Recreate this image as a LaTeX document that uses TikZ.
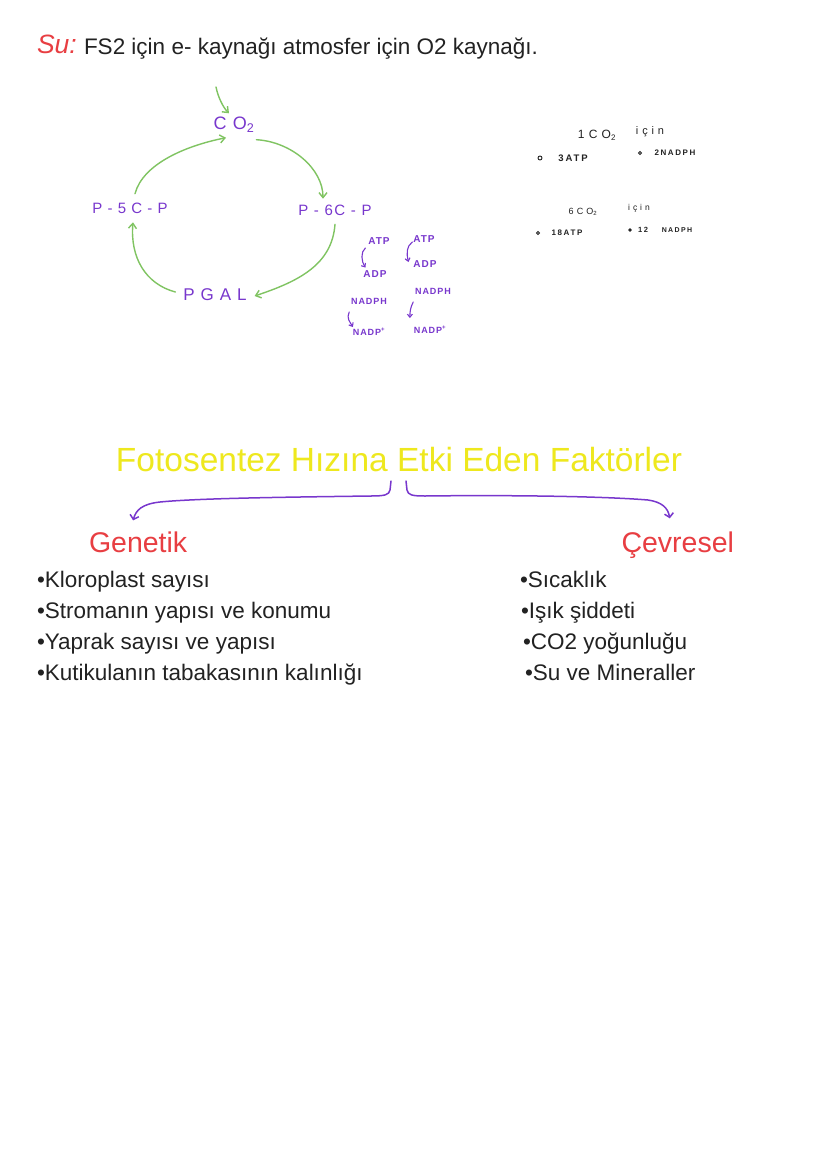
\documentclass[tikz,border=0pt]{standalone}
\usepackage{fontspec}
\setmainfont{Liberation Sans}
\newfontfamily\hand[LetterSpace=10]{Liberation Sans}
\newfontfamily\handw[LetterSpace=35]{Liberation Sans}
\newfontfamily\handn[LetterSpace=20]{Liberation Sans}
\usetikzlibrary{arrows.meta}
\definecolor{hpurple}{RGB}{120,55,205}
\definecolor{hgreen}{RGB}{128,196,98}
\definecolor{hred}{RGB}{232,62,66}
\definecolor{hyellow}{RGB}{238,232,30}
\definecolor{htext}{RGB}{34,34,34}
\begin{document}
\begin{tikzpicture}[x=1pt,y=-1pt,
  every node/.style={inner sep=0pt,outer sep=0pt},
  cyc/.style={text=hpurple,inner sep=3pt},
  tiny/.style={text=hpurple,font=\hand\bfseries\fontsize{10}{10}\selectfont},
  note/.style={text=htext},
  dot/.style={circle,draw=htext,line width=0.9pt,minimum size=4pt},
  garrow/.style={draw=hgreen,line width=1.4pt,line cap=round,-{Straight Barb[length=5pt,width=8pt]}},
  parrow/.style={draw=hpurple,line width=1.1pt,line cap=round,-{Straight Barb[length=3pt,width=5pt]}},
  brace/.style={draw=hpurple,line width=1.5pt,line cap=round,-{Straight Barb[length=4pt,width=9pt]}},
  bline/.style={text=htext,anchor=base west,font=\fontsize{22.5}{22.5}\selectfont},
]
\path[use as bounding box,fill=white] (0,0) rectangle (828,1170);

% header
\node[anchor=base west,text=hred,font=\itshape\fontsize{26.5}{26.5}\selectfont] (su) at (37,53) {Su:};
\node[anchor=base west,text=htext,font=\fontsize{22.5}{22.5}\selectfont] (hdr) at (84,54) {FS2 için e- kaynağı atmosfer için O2 kaynağı.};

% Calvin cycle
\node[cyc,font=\handw\fontsize{18}{18}\selectfont] (co2) at (234,125) {CO\textsubscript{2}};
\node[cyc,font=\hand\fontsize{15}{15}\selectfont] (p6) at (335,210) {P - 6C - P};
\node[cyc,font=\handw\fontsize{17}{17}\selectfont] (pgal) at (215,295) {PGAL};
\node[cyc,font=\handw\fontsize{15}{15}\selectfont] (p5) at (130,208) {P-5C-P};
\coordinate (in) at (216,87);
\draw[garrow] (in) .. controls +(2,10) and +(-6,-6) .. ([shift={(-5,-1)}]co2.north);
\draw[garrow] ([shift={(5,-6)}]p5.north) .. controls +(8,-30) and +(-40,8) .. ([shift={(-8,2)}]co2.south);
\draw[garrow] ([shift={(-1,4)}]co2.south east) .. controls +(35,2) and +(0,-30) .. ([shift={(-12,-3)}]p6.north);
\draw[garrow] ([shift={(0,6)}]p6.south) .. controls +(-3,40) and +(45,-15) .. ([shift={(5,1)}]pgal.east);
\draw[garrow] ([shift={(-5,-3)}]pgal.west) .. controls +(-30,-8) and +(-3,35) .. ([shift={(3,6)}]p5.south);

% ATP / NADPH annotations
\node[tiny] (atpa) at (379,241) {ATP};
\node[tiny] (adpa) at (375,274) {ADP};
\node[tiny,font=\hand\bfseries\fontsize{9}{9}\selectfont] (nadpha) at (369,301) {NADPH};
\node[tiny,font=\hand\bfseries\fontsize{9}{9}\selectfont] (nadppa) at (369,332) {NADP\textsuperscript{+}};
\node[tiny] (atpb) at (424,239) {ATP};
\node[tiny] (adpb) at (425,264) {ADP};
\node[tiny,font=\hand\bfseries\fontsize{9}{9}\selectfont] (nadphb) at (433,291) {NADPH};
\node[tiny,font=\hand\bfseries\fontsize{9}{9}\selectfont] (nadppb) at (430,330) {NADP\textsuperscript{+}};
\draw[parrow] ([shift={(-3,7)}]atpa.west) .. controls +(-5,4) and +(-4,-6) .. ([shift={(2,-3)}]adpa.north west);
\draw[parrow] ([shift={(-1,3)}]atpb.west) .. controls +(-6,4) and +(-2,-8) .. ([shift={(-5,-2)}]adpb.west);
\draw[parrow] ([shift={(-2,11)}]nadpha.west) .. controls +(-3,6) and +(-3,-5) .. ([shift={(0,-5)}]nadppa.west);
\draw[parrow] ([shift={(-2,11)}]nadphb.west) .. controls +(-3,6) and +(0,-6) .. ([shift={(-4,-12)}]nadppb.west);

% notes right
\node[note,font=\handw\fontsize{12}{12}\selectfont] (c1) at (597,135) {1CO\textsubscript{2}};
\node[note,font=\handw\fontsize{11}{11}\selectfont] (i1) at (650,132) {için};
\node[dot] (d1) at (540,158) {};
\node[note,font=\handn\bfseries\fontsize{9.5}{9.5}\selectfont] (a1) at (573,158) {3ATP};
\node[dot,minimum size=3pt] (d2) at (640,153) {};
\node[note,font=\handn\bfseries\fontsize{8}{8}\selectfont] (n1) at (675,153) {2NADPH};
\node[note,font=\handw\fontsize{9}{9}\selectfont] (c6) at (583,212) {6CO\textsubscript{2}};
\node[note,font=\handw\fontsize{8.5}{8.5}\selectfont] (i6) at (639,208) {için};
\node[dot,minimum size=3pt] (d3) at (538,233) {};
\node[note,font=\handn\bfseries\fontsize{8}{8}\selectfont] (a6) at (567,233) {18ATP};
\node[dot,minimum size=2.5pt,fill=htext] (d4) at (630,230) {};
\node[note,font=\handn\bfseries\fontsize{7.5}{7.5}\selectfont] (t6) at (643,230) {12};
\node[note,font=\handn\bfseries\fontsize{7}{7}\selectfont] (n6) at (677,230) {NADPH};

% factors
\node[anchor=base,text=hyellow,font=\fontsize{33.5}{33.5}\selectfont] (title) at (399,471) {Fotosentez Hızına Etki Eden Faktörler};
\node[anchor=base west,text=hred,font=\fontsize{28.5}{28.5}\selectfont] (gen) at (89,552) {Genetik};
\node[anchor=base east,text=hred,font=\fontsize{28.5}{28.5}\selectfont] (cev) at (734,552) {Çevresel};
\coordinate (bl) at (391,481);
\coordinate (br) at (406,481);
\draw[brace] (bl) -- (390,490) .. controls (389,495) and (385,496) .. (370,496) .. controls (300,497) and (200,498) .. (160,502) .. controls (142,504) and (136,510) .. ([shift={(-5,-11)}]gen.north);
\draw[brace] (br) -- (407,490) .. controls (408,495) and (412,496) .. (425,496) .. controls (500,495) and (600,496) .. (648,500) .. controls (662,502) and (668,508) .. ([shift={(-8,-13)}]cev.north);

% lists
\node[bline] (g1) at (37,587) {•Kloroplast sayısı};
\node[bline] (g2) at (37,618) {•Stromanın yapısı ve konumu};
\node[bline] (g3) at (37,649) {•Yaprak sayısı ve yapısı};
\node[bline] (g4) at (37,680) {•Kutikulanın tabakasının kalınlığı};
\node[bline] (e1) at (520,587) {•Sıcaklık};
\node[bline] (e2) at (521,618) {•Işık şiddeti};
\node[bline] (e3) at (523,649) {•CO2 yoğunluğu};
\node[bline] (e4) at (525,680) {•Su ve Mineraller};
\end{tikzpicture}
\end{document}
